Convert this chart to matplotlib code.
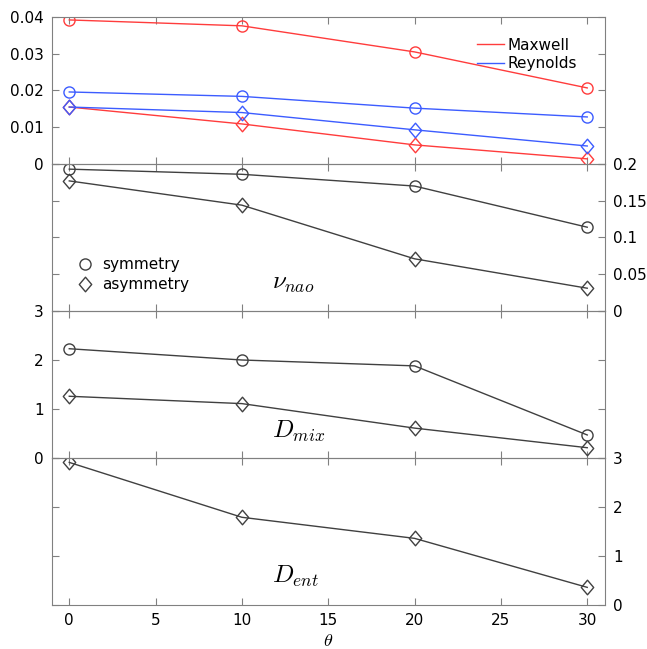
import numpy as np
import matplotlib
matplotlib.use('Agg')
from matplotlib import pyplot as plt
from matplotlib.lines import Line2D
from matplotlib.path import Path

plt.rcParams['mathtext.fontset'] = 'cm'
plt.rcParams['font.size'] = 11

theta = [0, 10, 20, 30]

# panel 1
maxwell_sym = [0.0392, 0.0376, 0.0305, 0.0207]
maxwell_asym = [0.0155, 0.0109, 0.0052, 0.0014]
reynolds_sym = [0.0196, 0.0184, 0.0152, 0.0128]
reynolds_asym = [0.0155, 0.0140, 0.0093, 0.0049]

# panel 2
nao_sym = [0.193, 0.186, 0.170, 0.114]
nao_asym = [0.177, 0.144, 0.071, 0.031]

# panel 3
mix_sym = [2.23, 2.00, 1.88, 0.47]
mix_asym = [1.26, 1.11, 0.61, 0.21]

# panel 4
ent_asym = [2.91, 1.79, 1.36, 0.36]

red = '#ff3c3c'
blue = '#3c5cff'
dark = '#404040'
spine = '#808080'

# slightly narrow diamond like the original
diam = Path([(0, 1), (0.85, 0), (0, -1), (-0.85, 0), (0, 1)],
            [Path.MOVETO, Path.LINETO, Path.LINETO, Path.LINETO, Path.CLOSEPOLY])

fig = plt.figure(figsize=(6.47, 6.49), dpi=100)
left, width = 52 / 647, 552.5 / 647
h = 147 / 649
bottom0 = 44 / 649
axs = [fig.add_axes([left, bottom0 + (3 - i) * h, width, h]) for i in range(4)]

circ = dict(marker='o', markersize=8, markerfacecolor='none', lw=1)
dia = dict(marker=diam, markersize=10.5, markerfacecolor='none', lw=1)

ax = axs[0]
ax.plot(theta, maxwell_sym, color=red, markeredgecolor=red, **circ)
ax.plot(theta, maxwell_asym, color=red, markeredgecolor=red, **dia)
ax.plot(theta, reynolds_sym, color=blue, markeredgecolor=blue, **circ)
ax.plot(theta, reynolds_asym, color=blue, markeredgecolor=blue, **dia)
ax.set_ylim(0, 0.04)
ax.set_yticks([0, 0.01, 0.02, 0.03, 0.04])
ax.set_yticklabels(['0', '0.01', '0.02', '0.03', '0.04'])
h1 = [Line2D([], [], color=red, lw=1), Line2D([], [], color=blue, lw=1)]
ax.legend(h1, ['Maxwell', 'Reynolds'], loc='upper left', bbox_to_anchor=(0.77, 0.86),
          borderaxespad=0, borderpad=0, frameon=False, handlelength=1.75,
          handletextpad=0.2, labelspacing=0.25, fontsize=11)

ax = axs[1]
ax.plot(theta, nao_sym, color=dark, markeredgecolor=dark, **circ)
ax.plot(theta, nao_asym, color=dark, markeredgecolor=dark, **dia)
ax.set_ylim(0, 0.2)
ax.set_yticks([0, 0.05, 0.1, 0.15, 0.2])
ax.set_yticklabels(['0', '0.05', '0.1', '0.15', '0.2'])
h2 = [Line2D([], [], color=dark, ls='none', markeredgecolor=dark, marker='o',
             markersize=8, markerfacecolor='none'),
      Line2D([], [], color=dark, ls='none', markeredgecolor=dark, marker=diam,
             markersize=10.5, markerfacecolor='none')]
ax.legend(h2, ['symmetry', 'asymmetry'], loc='upper left', bbox_to_anchor=(0.046, 0.365),
          borderaxespad=0, borderpad=0, frameon=False, handlelength=1.0,
          handletextpad=0.65, labelspacing=0.3, fontsize=11)
ax.text(11.75, 0.030, r'$\nu_{nao}$', fontsize=18, va='baseline')

ax = axs[2]
ax.plot(theta, mix_sym, color=dark, markeredgecolor=dark, **circ)
ax.plot(theta, mix_asym, color=dark, markeredgecolor=dark, **dia)
ax.set_ylim(0, 3)
ax.set_yticks([0, 1, 2, 3])
ax.text(11.75, 0.41, r'$D_{mix}$', fontsize=18, va='baseline')

ax = axs[3]
ax.plot(theta, ent_asym, color=dark, markeredgecolor=dark, **dia)
ax.set_ylim(0, 3)
ax.set_yticks([0, 1, 2, 3])
ax.text(11.75, 0.45, r'$D_{ent}$', fontsize=18, va='baseline')
ax.set_xlabel(r'$\theta$', fontsize=13, labelpad=3)

for i, ax in enumerate(axs):
    ax.set_xlim(-1, 31)
    ax.set_xticks([0, 5, 10, 15, 20, 25, 30])
    ax.tick_params(direction='in', top=True, bottom=True, left=True, right=True,
                   length=5, pad=6, colors=spine, labelcolor='black', labelsize=11)
    if i in (1, 3):
        ax.tick_params(axis='y', labelleft=False, labelright=True)
    if i < 3:
        ax.tick_params(axis='x', labelbottom=False)
    for s in ax.spines.values():
        s.set_color(spine)
    ax.patch.set_alpha(0)

fig.savefig('out.png', dpi=100)
